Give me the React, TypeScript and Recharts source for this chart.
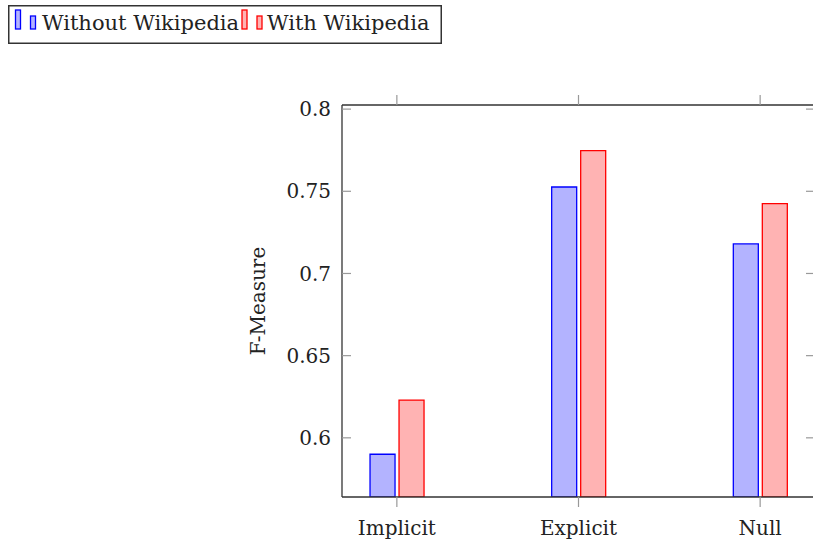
import { Bar, BarChart, Legend, XAxis, YAxis } from 'recharts'

const CATEGORIES = ['Implicit', 'Explicit', 'Null']
const WITHOUT_WIKI = [0.59, 0.7526, 0.718]
const WITH_WIKI = [0.623, 0.7748, 0.7425]
const Y_TICKS = [0.6, 0.65, 0.7, 0.75, 0.8]
const Y_TICK_LABELS = ['0.6', '0.65', '0.7', '0.75', '0.8']

const Y_DOMAIN: [number, number] = [0.564, 0.8025]
const X_DOMAIN: [number, number] = [-0.302, 2.302]
const FONT = '"DejaVu Serif", serif'
const BLUE = '#0000ff'
const BLUE_FILL = '#b3b3ff'
const RED = '#ff0000'
const RED_FILL = '#ffb3b3'

const data = CATEGORIES.map((name, i) => ({
  x: i,
  name,
  without: WITHOUT_WIKI[i],
  with: WITH_WIKI[i],
}))

function LegendIcon({ x, stroke, fill }: { x: number; stroke: string; fill: string }) {
  return (
    <g stroke={stroke} fill={fill} strokeWidth={1.3}>
      <rect x={x} y={5} width={5} height={19} />
      <rect x={x + 15} y={11} width={5} height={13} />
    </g>
  )
}

function BoxLegend() {
  return (
    <svg width={434} height={39} style={{ display: 'block' }}>
      <rect x={0.75} y={0.75} width={432.5} height={37.5} fill="#fff" stroke="#333" strokeWidth={1.5} />
      <LegendIcon x={7.5} stroke={BLUE} fill={BLUE_FILL} />
      <text x={34} y={25} fontFamily={FONT} fontSize={21} fill="#222">
        Without Wikipedia
      </text>
      <LegendIcon x={234} stroke={RED} fill={RED_FILL} />
      <text x={259} y={25} fontFamily={FONT} fontSize={21} fill="#222">
        With Wikipedia
      </text>
    </svg>
  )
}

const tickStyle = { fontFamily: FONT, fontSize: 20, fill: '#222' }
const blank = () => ''

export default function App() {
  return (
    <div style={{ position: 'absolute', left: 0, top: 0, width: 813, height: 545, overflow: 'hidden', background: '#fff' }}>
      <BarChart
        width={820}
        height={545}
        data={data}
        margin={{ top: 104, right: 5, bottom: 0, left: 242 }}
        barSize={25}
        barGap={4}
      >
        <XAxis
          dataKey="x"
          type="number"
          domain={X_DOMAIN}
          ticks={[0, 1, 2]}
          allowDataOverflow
          tickFormatter={(i: number) => CATEGORIES[i] ?? ''}
          tick={tickStyle}
          height={48}
          tickSize={10}
          tickMargin={14}
          axisLine={{ stroke: '#333', strokeWidth: 1.3 }}
          tickLine={{ stroke: '#999', strokeWidth: 1.2 }}
        />
        <XAxis
          xAxisId="top"
          orientation="top"
          dataKey="x"
          type="number"
          domain={X_DOMAIN}
          ticks={[0, 1, 2]}
          allowDataOverflow
          tickFormatter={blank}
          height={1}
          tickSize={10}
          axisLine={{ stroke: '#333', strokeWidth: 1.3 }}
          tickLine={{ stroke: '#999', strokeWidth: 1.2 }}
        />
        <YAxis
          yAxisId="left"
          type="number"
          domain={Y_DOMAIN}
          ticks={Y_TICKS}
          allowDataOverflow
          tickFormatter={(v: number) => Y_TICK_LABELS[Y_TICKS.indexOf(v)] ?? String(v)}
          width={100}
          tick={tickStyle}
          tickLine={false}
          tickSize={0}
          tickMargin={11}
          axisLine={{ stroke: '#333', strokeWidth: 1.3 }}
          label={{
            value: 'F-Measure',
            angle: -90,
            position: 'insideLeft',
            offset: 16,
            style: { fontFamily: FONT, fontSize: 20, fill: '#222', textAnchor: 'middle' },
          }}
        />
        <YAxis
          yAxisId="leftIn"
          orientation="left"
          mirror
          type="number"
          domain={Y_DOMAIN}
          ticks={Y_TICKS}
          allowDataOverflow
          tickFormatter={blank}
          tickSize={9}
          axisLine={false}
          tickLine={{ stroke: '#999', strokeWidth: 1.2 }}
        />
        <YAxis
          yAxisId="right"
          orientation="right"
          mirror
          type="number"
          domain={Y_DOMAIN}
          ticks={Y_TICKS}
          allowDataOverflow
          tickFormatter={blank}
          tickSize={9}
          axisLine={{ stroke: '#333', strokeWidth: 1.3 }}
          tickLine={{ stroke: '#999', strokeWidth: 1.2 }}
        />
        <Legend
          layout="vertical"
          align="center"
          verticalAlign="middle"
          content={() => <BoxLegend />}
          wrapperStyle={{ position: 'absolute', left: 8, top: 5, width: 434, height: 39 }}
        />
        <Bar
          yAxisId="left"
          dataKey="without"
          name="Without Wikipedia"
          fill={BLUE_FILL}
          stroke={BLUE}
          strokeWidth={1.3}
          isAnimationActive={false}
        />
        <Bar
          yAxisId="left"
          dataKey="with"
          name="With Wikipedia"
          fill={RED_FILL}
          stroke={RED}
          strokeWidth={1.3}
          isAnimationActive={false}
        />
      </BarChart>
    </div>
  )
}
